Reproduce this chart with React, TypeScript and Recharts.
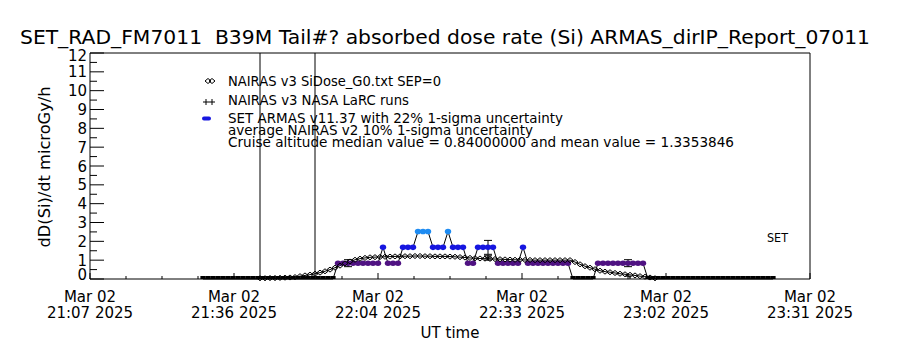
import React from 'react';
import { ComposedChart, Line, Scatter, XAxis, YAxis, ReferenceLine, ErrorBar } from 'recharts';

// x values are minutes after 21:07 UT
const X_MAJOR = [0, 28.8, 57.6, 86.4, 115.2, 144];
const X_DATE_LABELS = ['Mar 02', 'Mar 02', 'Mar 02', 'Mar 02', 'Mar 02', 'Mar 02'];
const X_TIME_LABELS = ['21:07 2025', '21:36 2025', '22:04 2025', '22:33 2025', '23:02 2025', '23:31 2025'];
const Y_MAJOR = [0, 1, 2, 3, 4, 5, 6, 7, 8, 9, 10, 11, 12];

const EVENT_TIMES = [34, 45];

// SET ARMAS, one sample per minute
const ARMAS_START = 22.6;
const ARMAS_DOSE = [
  0, 0, 0, 0, 0, 0, 0, 0, 0, 0, 0, 0, 0, 0, 0, 0, 0, 0, 0, 0, 0, 0, 0, 0, 0, 0, 0,
  0.84, 0.84, 0.84, 0.84, 0.84, 0.84, 0.84, 0.84, 0.84,
  1.68,
  0.84, 0.84, 0.84,
  1.68, 1.68, 1.68,
  2.52, 2.52, 2.52,
  1.68, 1.68, 1.68,
  2.52,
  1.68, 1.68, 1.68,
  0.84, 0.84,
  1.68, 1.68, 1.68, 1.68,
  0.84, 0.84, 0.84, 0.84, 0.84,
  1.68,
  0.84, 0.84, 0.84, 0.84, 0.84, 0.84, 0.84, 0.84, 0.84,
  0, 0, 0, 0, 0,
  0.84, 0.84, 0.84, 0.84, 0.84, 0.84, 0.84, 0.84, 0.84, 0.84,
  0, 0, 0, 0, 0, 0, 0, 0, 0, 0, 0, 0, 0, 0, 0, 0, 0, 0, 0, 0, 0, 0, 0, 0, 0, 0,
];

// NAIRAS v3 SiDose, one sample per minute
const NAIRAS_START = 34;
const NAIRAS_DOSE = [
  0.04, 0.04, 0.05, 0.05, 0.06, 0.07, 0.08, 0.1,
  0.15, 0.19, 0.23, 0.28, 0.34, 0.41, 0.5, 0.6, 0.71, 0.83, 0.93, 1.02, 1.08, 1.12, 1.15,
  1.16, 1.17, 1.18, 1.19, 1.2, 1.2, 1.21, 1.21, 1.22, 1.22, 1.21, 1.21, 1.2, 1.2, 1.2, 1.19, 1.18, 1.16, 1.14, 1.12,
  1.1, 1.09, 1.08, 1.07, 1.06, 1.05, 1.04, 1.03, 1.02, 1.02, 1.01, 1.01, 1.0, 1.0, 1.0, 1.0, 1.0, 1.0, 1.0, 1.0,
  0.9, 0.78, 0.68, 0.6, 0.52, 0.44, 0.39, 0.36, 0.32, 0.28, 0.25, 0.22, 0.19, 0.15, 0.12, 0.08, 0.04,
];

const LARC_TIMES = [51.6, 79.6, 107.6];
const LARC_DOSE = [0.9, 1.12, 0.15];

const ARMAS_ERR_TIMES = [51.6, 79.6, 107.6];
const ARMAS_ERR_DOSE = [0.84, 1.68, 0.84];
const NAIRAS_ERR_TIMES = [79.6];
const NAIRAS_ERR_DOSE = [1.12];

const armasData = ARMAS_DOSE.map((v, i) => ({ t: ARMAS_START + i, v }));
const nairasData = NAIRAS_DOSE.map((v, i) => ({ t: NAIRAS_START + i, v }));
const larcData = LARC_TIMES.map((t, i) => ({ t, v: LARC_DOSE[i] }));
const armasErrData = ARMAS_ERR_TIMES.map((t, i) => ({ t, v: ARMAS_ERR_DOSE[i], err: ARMAS_ERR_DOSE[i] * 0.22 }));
const nairasErrData = NAIRAS_ERR_TIMES.map((t, i) => ({ t, v: NAIRAS_ERR_DOSE[i], err: NAIRAS_ERR_DOSE[i] * 0.1 }));

const xTicks: number[] = [];
for (let i = 0; i <= 20; i++) xTicks.push(Math.round(i * 7.2 * 10) / 10);
const yTicks: number[] = [];
Y_MAJOR.forEach((v) => {
  yTicks.push(v);
  if (v < 12) yTicks.push(v + 0.5);
});

const FONT = '"DejaVu Sans", sans-serif';
const PURPLE = '#4f1282';
const BLUE = '#1616e0';
const LIGHT_BLUE = '#1e8cf2';

const doseColor = (v: number) => {
  if (v <= 0) return '#000';
  if (v < 1.2) return PURPLE;
  if (v < 2.1) return BLUE;
  return LIGHT_BLUE;
};

const isMajorX = (v: number) => X_MAJOR.findIndex((m) => Math.abs(m - v) < 0.05);

const LeftTick = ({ x, y, payload }: any) => {
  const v = payload.value;
  const major = Math.abs(v - Math.round(v)) < 1e-6;
  let dy = 5.5;
  if (v === 12) dy = 8;
  if (v === 0) dy = 0.5;
  return (
    <g>
      <line x1={x} x2={x + (major ? 14 : 7)} y1={y} y2={y} stroke="#000" />
      {major && (
        <text x={x - 3} y={y + dy} textAnchor="end" fontSize={15} fontFamily={FONT} fill="#000">
          {v}
        </text>
      )}
    </g>
  );
};

const RightTick = ({ x, y, payload }: any) => {
  const v = payload.value;
  const major = Math.abs(v - Math.round(v)) < 1e-6;
  return <line x1={x} x2={x - (major ? 14 : 7)} y1={y} y2={y} stroke="#000" />;
};

const BottomTick = ({ x, y, payload }: any) => {
  const idx = isMajorX(payload.value);
  return (
    <g>
      <line x1={x} x2={x} y1={y} y2={y - (idx >= 0 ? 6 : 3)} stroke="#000" />
      {idx >= 0 && (
        <text x={x} y={y + 23} textAnchor="middle" fontSize={15} fontFamily={FONT} fill="#000">
          {X_DATE_LABELS[idx]}
        </text>
      )}
      {idx >= 0 && (
        <text x={x} y={y + 39} textAnchor="middle" fontSize={15} fontFamily={FONT} fill="#000">
          {X_TIME_LABELS[idx]}
        </text>
      )}
    </g>
  );
};

const TopTick = ({ x, y, payload }: any) => {
  const idx = isMajorX(payload.value);
  return <line x1={x} x2={x} y1={y} y2={y + (idx >= 0 ? 6 : 3)} stroke="#000" />;
};

const ArmasDot = (props: any) => {
  const { cx, cy, payload, index } = props;
  if (cx == null || cy == null) return <g key={index} />;
  if (payload.v <= 0) {
    // zero samples sit on the axis as a solid band
    return <rect key={index} x={cx - 2.6} y={cy - 3} width={5.2} height={3} fill="#000" />;
  }
  return <ellipse key={index} cx={cx} cy={cy} rx={3.2} ry={2.8} fill={doseColor(payload.v)} stroke="none" />;
};

const DiamondDot = (props: any) => {
  const { cx, cy, index } = props;
  if (cx == null || cy == null) return <g key={index} />;
  return (
    <path
      key={index}
      d={`M${cx - 3},${cy} L${cx},${cy - 2.5} L${cx + 3},${cy} L${cx},${cy + 2.5} Z`}
      fill="none"
      stroke="#000"
      strokeWidth={1}
    />
  );
};

const Cross = (props: any) => {
  const { cx, cy } = props;
  return <path d={`M${cx - 3},${cy} H${cx + 3} M${cx},${cy - 3} V${cy + 3}`} stroke="#000" strokeWidth={1} />;
};

const Hidden = () => <g />;

const txt = { fontFamily: FONT, fill: '#000' };

export default function App() {
  return (
    <div style={{ position: 'absolute', left: 0, top: 0, width: 900, height: 350, background: '#fff' }}>
      <ComposedChart width={900} height={350} margin={{ top: 43, right: 80, bottom: 11, left: 10 }}>
        <XAxis
          xAxisId={0}
          dataKey="t"
          type="number"
          domain={[0, 144]}
          ticks={xTicks}
          interval={0}
          height={60}
          tickSize={0}
          tickMargin={0}
          tick={<BottomTick />}
          axisLine={{ stroke: '#000' }}
          tickLine={false}
          allowDataOverflow
        />
        <XAxis
          xAxisId="t"
          orientation="top"
          type="number"
          domain={[0, 144]}
          ticks={xTicks}
          interval={0}
          height={10}
          tickSize={0}
          tickMargin={0}
          tick={<TopTick />}
          axisLine={{ stroke: '#000' }}
          tickLine={false}
          allowDataOverflow
        />
        <YAxis
          yAxisId={0}
          dataKey="v"
          type="number"
          domain={[0, 12]}
          ticks={yTicks}
          interval={0}
          width={80}
          tickSize={0}
          tickMargin={0}
          tick={<LeftTick />}
          axisLine={{ stroke: '#000' }}
          tickLine={false}
        />
        <YAxis
          yAxisId="r"
          orientation="right"
          type="number"
          domain={[0, 12]}
          ticks={yTicks}
          interval={0}
          width={10}
          tickSize={0}
          tickMargin={0}
          tick={<RightTick />}
          axisLine={{ stroke: '#000' }}
          tickLine={false}
        />

        {EVENT_TIMES.map((t) => (
          <ReferenceLine key={t} x={t} stroke="#000" strokeWidth={1} />
        ))}

        <Line
          data={armasData}
          dataKey="v"
          stroke="#000"
          strokeWidth={1}
          dot={ArmasDot}
          activeDot={false}
          isAnimationActive={false}
          type="linear"
        />
        <Line
          data={nairasData}
          dataKey="v"
          stroke="#000"
          strokeWidth={1}
          dot={DiamondDot}
          activeDot={false}
          isAnimationActive={false}
          type="linear"
        />
        <Scatter data={armasErrData} dataKey="v" shape={Hidden} isAnimationActive={false}>
          <ErrorBar dataKey="err" direction="y" width={4} stroke="#000" strokeWidth={1} />
        </Scatter>
        <Scatter data={nairasErrData} dataKey="v" shape={Hidden} isAnimationActive={false}>
          <ErrorBar dataKey="err" direction="y" width={4} stroke="#000" strokeWidth={1} />
        </Scatter>
        <Scatter data={larcData} dataKey="v" shape={Cross} isAnimationActive={false} />

        {/* title and annotations */}
        <text
          x={20}
          y={44}
          fontSize={19}
          textLength={850}
          lengthAdjust="spacingAndGlyphs"
          style={{ whiteSpace: 'pre' }}
          {...txt}
        >
          {'SET_RAD_FM7011  B39M Tail#? absorbed dose rate (Si) ARMAS_dirIP_Report_07011'}
        </text>
        <text
          x={45}
          y={167}
          fontSize={15}
          textAnchor="middle"
          dominantBaseline="central"
          transform="rotate(-90 45 167)"
          textLength={161}
          lengthAdjust="spacingAndGlyphs"
          {...txt}
        >
          dD(Si)/dt microGy/h
        </text>
        <text x={450} y={338} fontSize={15} textAnchor="middle" {...txt}>
          UT time
        </text>
        <text x={767} y={242} fontSize={13} textLength={21} lengthAdjust="spacingAndGlyphs" {...txt}>
          SET
        </text>

        {/* legend */}
        <path d="M205,81 L208,78.5 L211,81 L208,83.5 Z M209,81 L212,78.5 L215,81 L212,83.5 Z" fill="none" stroke="#000" />
        <path d="M203,102 H209 M206,99 V105 M209,102 H215 M212,99 V105" stroke="#000" />
        <rect x={202} y={116.5} width={9} height={4} rx={2} fill={BLUE} />
        <text x={228} y={86} fontSize={14} textLength={213} lengthAdjust="spacingAndGlyphs" {...txt}>
          NAIRAS v3 SiDose_G0.txt SEP=0
        </text>
        <text x={228} y={105} fontSize={14} textLength={181} lengthAdjust="spacingAndGlyphs" {...txt}>
          NAIRAS v3 NASA LaRC runs
        </text>
        <text x={228} y={123} fontSize={14} textLength={335} lengthAdjust="spacingAndGlyphs" {...txt}>
          SET ARMAS v11.37 with 22% 1-sigma uncertainty
        </text>
        <text x={228} y={135} fontSize={14} textLength={305} lengthAdjust="spacingAndGlyphs" {...txt}>
          average NAIRAS v2 10% 1-sigma uncertainty
        </text>
        <text x={228} y={147} fontSize={14} textLength={506} lengthAdjust="spacingAndGlyphs" {...txt}>
          Cruise altitude median value = 0.84000000 and mean value = 1.3353846
        </text>
      </ComposedChart>
    </div>
  );
}
